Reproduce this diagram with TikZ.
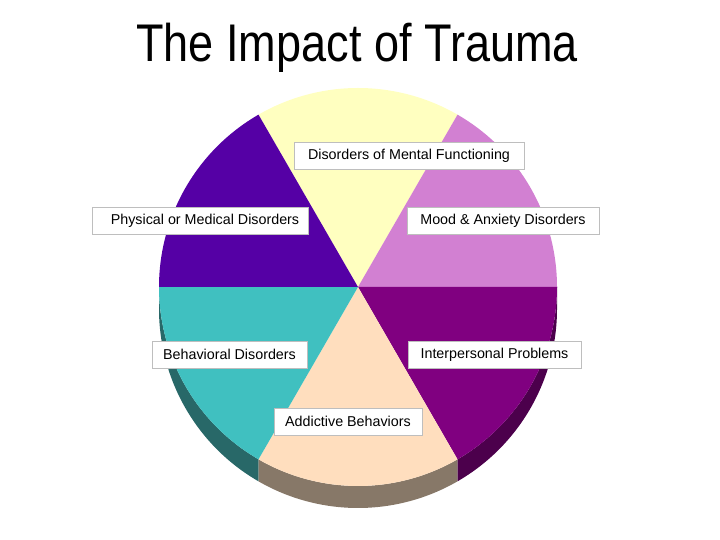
\documentclass[tikz,border=0pt]{standalone}
\usepackage{fontspec}
\setmainfont{Liberation Sans}
\usepackage{tikz}
\usetikzlibrary{positioning}
\definecolor{PaleYellow}{RGB}{255, 255, 192}
\definecolor{SoftOrchid}{RGB}{210, 128, 210}
\definecolor{DeepPurple}{RGB}{128, 0, 128}
\definecolor{Peach}{RGB}{255, 222, 190}
\definecolor{Teal}{RGB}{64, 192, 192}
\definecolor{Indigo}{RGB}{85, 0, 165}
\definecolor{TealWall}{RGB}{40, 104, 104}
\definecolor{PeachWall}{RGB}{135, 120, 104}
\definecolor{PurpleWall}{RGB}{76, 0, 76}
\definecolor{BoxLine}{RGB}{190, 190, 190}

\begin{document}
\begin{tikzpicture}[x=1pt, y=1pt,
            label/.style={draw=BoxLine, fill=white, line width=0.8pt, minimum height=27pt, inner sep=0pt, font=\fontsize{14.3}{16}\selectfont},
            title/.style={font=\fontsize{53}{58}\selectfont, xscale=0.85}
        ]
        \path[use as bounding box] (0,0) rectangle (720,540);

        % Title
        \node[title, anchor=base] (head) at (357, 478) {The Impact of Trauma};

        % Centre of the pie
        \coordinate (c) at (358, 253);

        % Side wall (lower half only shows)
        \fill[TealWall] (c) ++(180:199) arc[start angle=180, end angle=240, radius=199] -- ++(0,-22) arc[start angle=240, end angle=180, radius=199] -- cycle;
        \fill[PeachWall] (c) ++(240:199) arc[start angle=240, end angle=300, radius=199] -- ++(0,-22) arc[start angle=300, end angle=240, radius=199] -- cycle;
        \fill[PurpleWall] (c) ++(300:199) arc[start angle=300, end angle=360, radius=199] -- ++(0,-22) arc[start angle=360, end angle=300, radius=199] -- cycle;

        % Slices
        \fill[PaleYellow] (c) -- ++(60:199) arc[start angle=60, end angle=120, radius=199] -- cycle;
        \fill[SoftOrchid] (c) -- ++(0:199) arc[start angle=0, end angle=60, radius=199] -- cycle;
        \fill[DeepPurple] (c) -- ++(300:199) arc[start angle=300, end angle=360, radius=199] -- cycle;
        \fill[Peach] (c) -- ++(240:199) arc[start angle=240, end angle=300, radius=199] -- cycle;
        \fill[Teal] (c) -- ++(180:199) arc[start angle=180, end angle=240, radius=199] -- cycle;
        \fill[Indigo] (c) -- ++(120:199) arc[start angle=120, end angle=180, radius=199] -- cycle;

        % Labels
        \node[label, minimum width=230pt] (mental) at (409, 384.5) {Disorders of Mental Functioning};
        \node[label, minimum width=216pt] (physical) at (200, 319.5) {\hspace{10pt}Physical or Medical Disorders};
        \node[label, minimum width=192pt] (mood) at (503, 319.5) {Mood \& Anxiety Disorders};
        \node[label, minimum width=155pt] (behav) at (229.5, 185.5) {Behavioral Disorders};
        \node[label, minimum width=173pt] (inter) at (494.5, 185.5) {Interpersonal Problems};
        \node[label, minimum width=148pt] (addict) at (348, 118.5) {Addictive Behaviors};

        \end{tikzpicture}
\end{document}
